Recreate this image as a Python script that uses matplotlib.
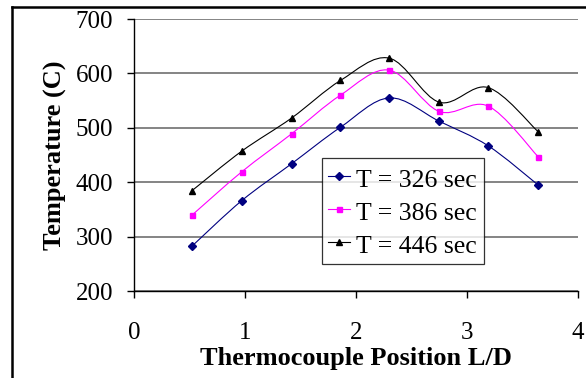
import numpy as np
import matplotlib
matplotlib.use("Agg")
from matplotlib import pyplot as plt
from matplotlib.path import Path
from matplotlib.patches import PathPatch
from matplotlib.lines import Line2D

# thermocouple positions (L/D) and temperatures (C)
position = [0.52, 0.97, 1.42, 1.86, 2.30, 2.75, 3.19, 3.64]
temp_326 = [282, 366, 434, 501, 555, 512, 467, 395]
temp_386 = [339, 419, 489, 560, 606, 530, 540, 447]
temp_446 = [384, 457, 518, 587, 628, 547, 574, 493]
labels = ["T = 326 sec", "T = 386 sec", "T = 446 sec"]
y_ticks = [200, 300, 400, 500, 600, 700]
x_ticks = [0, 1, 2, 3, 4]

plt.rcParams['font.family'] = ['Liberation Serif', 'DejaVu Serif']


def smooth_path(x, y):
    # excel-style smoothed line: cubic bezier through every point
    pts = np.column_stack([x, y]).astype(float)
    n = len(pts)
    verts = [pts[0]]
    codes = [Path.MOVETO]
    for i in range(n - 1):
        p0 = pts[i - 1] if i > 0 else pts[i]
        p1 = pts[i]
        p2 = pts[i + 1]
        p3 = pts[i + 2] if i + 2 < n else pts[i + 1]
        verts += [p1 + (p2 - p0) / 6, p2 - (p3 - p1) / 6, p2]
        codes += [Path.CURVE4] * 3
    return Path(verts, codes)


fig = plt.figure(figsize=(5.86, 3.78), dpi=100)
ax = fig.add_axes([134 / 586, 1 - 291 / 378, 444 / 586, 272 / 378])

series = [
    (temp_326, '#000080', 'D', 3.6),
    (temp_386, '#FF00FF', 's', 3.6),
    (temp_446, 'black', '^', 4.2),
]
handles = []
for (temps, color, marker, ms), label in zip(series, labels):
    ax.add_patch(PathPatch(smooth_path(position, temps), fill=False,
                           edgecolor=color, lw=0.8, zorder=3))
    ax.plot(position, temps, ls='none', marker=marker, ms=ms,
            color=color, zorder=4)
    handles.append(Line2D([], [], color=color, lw=0.8, marker=marker,
                          ms=ms, label=label))

ax.set_xlim(0, 4)
ax.set_ylim(200, 700)
ax.set_xticks(x_ticks)
ax.set_yticks(y_ticks)
ax.yaxis.grid(True, color='#707070', lw=1.2)
ax.set_axisbelow(True)
for side in ['top', 'right']:
    ax.spines[side].set_visible(False)
ax.spines['left'].set_linewidth(1)
ax.spines['bottom'].set_linewidth(1)
ax.tick_params(axis='both', direction='out', length=5, width=1,
               labelsize=18)
ax.tick_params(axis='x', pad=17)
ax.tick_params(axis='y', pad=10)

ax.set_xlabel("Thermocouple Position L/D", fontsize=19, fontweight='bold')
ax.set_ylabel("Temperature (C)", fontsize=19, fontweight='bold')
ax.xaxis.set_label_coords(0.5, -0.205)
ax.yaxis.set_label_coords(-0.152, 0.5)

leg = ax.legend(handles=handles, loc='upper left',
                bbox_to_anchor=(321.7 / 586, 1 - 158.3 / 378),
                bbox_transform=fig.transFigure, borderaxespad=0,
                fontsize=18.5, frameon=True, fancybox=False,
                handlelength=0.85, handletextpad=0.25, labelspacing=0.2,
                handleheight=1.28, borderpad=0.25)
leg.get_frame().set_edgecolor('black')
leg.get_frame().set_linewidth(0.9)
leg.set_zorder(5)

# border of the picture on the top and left
fig.add_artist(Line2D([12 / 586, 1], [1 - 7 / 378, 1 - 7 / 378],
                      color='black', lw=1.8, transform=fig.transFigure))
fig.add_artist(Line2D([12 / 586, 12 / 586], [0, 1 - 7 / 378],
                      color='black', lw=1.8, transform=fig.transFigure))

fig.savefig("out.png", dpi=100)
